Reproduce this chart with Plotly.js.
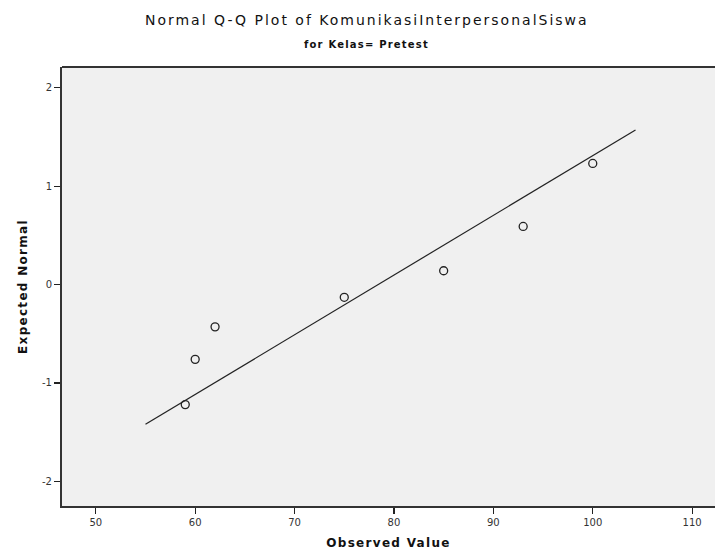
<!DOCTYPE html>
<html><head><meta charset="utf-8">
<script src="https://cdn.plot.ly/plotly-3.0.1.min.js"></script>
<style>
body{margin:0;background:#fff}#c{width:715px;height:558px}
.gtitle{letter-spacing:2px}
.xtitle,.ytitle{letter-spacing:1.3px}
.annotation-text{letter-spacing:1.2px}
</style>
</head><body><div id="c"></div>
<script>
const observed = [59, 60, 62, 75, 85, 93, 100];
const expected = [-1.22, -0.76, -0.43, -0.13, 0.14, 0.59, 1.23];
const lineX = [55, 104.3];
const lineY = [-1.42, 1.57];
const xTicks = [50, 60, 70, 80, 90, 100, 110];
const yTicks = [-2, -1, 0, 1, 2];
const yTickText = ["-2", "-1", "0", "1", "2"];

const data = [
  {x: lineX, y: lineY, mode: 'lines', type: 'scatter',
   line: {color: '#222', width: 1.2}, hoverinfo: 'skip'},
  {x: observed, y: expected, mode: 'markers', type: 'scatter',
   marker: {symbol: 'circle-open', size: 8, color: '#222', line: {width: 1.3, color: '#222'}}}
];
const layout = {
  width: 715, height: 558,
  margin: {l: 62, r: 0, t: 67, b: 52},
  paper_bgcolor: '#ffffff', plot_bgcolor: '#f0f0f0',
  showlegend: false,
  font: {family: 'DejaVu Sans, sans-serif', color: '#111'},
  title: {text: 'Normal Q-Q Plot of KomunikasiInterpersonalSiswa', x: 0.513, xanchor: 'center', y: 0.964, yanchor: 'middle',
          font: {size: 14, color: '#111', family: 'DejaVu Sans, sans-serif'}},
  annotations: [{text: '<b>for Kelas= Pretest</b>', xref: 'paper', yref: 'paper', x: 0.466, y: 1.052,
                 xanchor: 'center', yanchor: 'middle', showarrow: false, font: {size: 10, color: '#111'}}],
  xaxis: {range: [46.6, 112.3], tickvals: xTicks, ticks: 'outside', ticklen: 6, tickwidth: 1.2, tickcolor: '#222',
          showgrid: false, zeroline: false, showline: true, linecolor: '#333', linewidth: 2, mirror: false,
          tickfont: {size: 10, color: '#333'},
          title: {text: '<b>Observed Value</b>', font: {size: 12, color: '#111'}, standoff: 12}},
  yaxis: {range: [-2.25, 2.21], tickvals: yTicks, ticktext: yTickText, ticks: 'outside', ticklen: 6, tickwidth: 1.2, tickcolor: '#222',
          showgrid: false, zeroline: false, showline: true, linecolor: '#333', linewidth: 2,
          tickfont: {size: 10, color: '#333'},
          title: {text: '<b>Expected Normal</b>', font: {size: 12, color: '#111'}, standoff: 12}},
  shapes: [{type: 'line', xref: 'paper', yref: 'paper', x0: 0, x1: 1, y0: 1, y1: 1, line: {color: '#333', width: 2}}]
};
Plotly.newPlot('c', data, layout, {displayModeBar: false, staticPlot: true});
</script></body></html>
